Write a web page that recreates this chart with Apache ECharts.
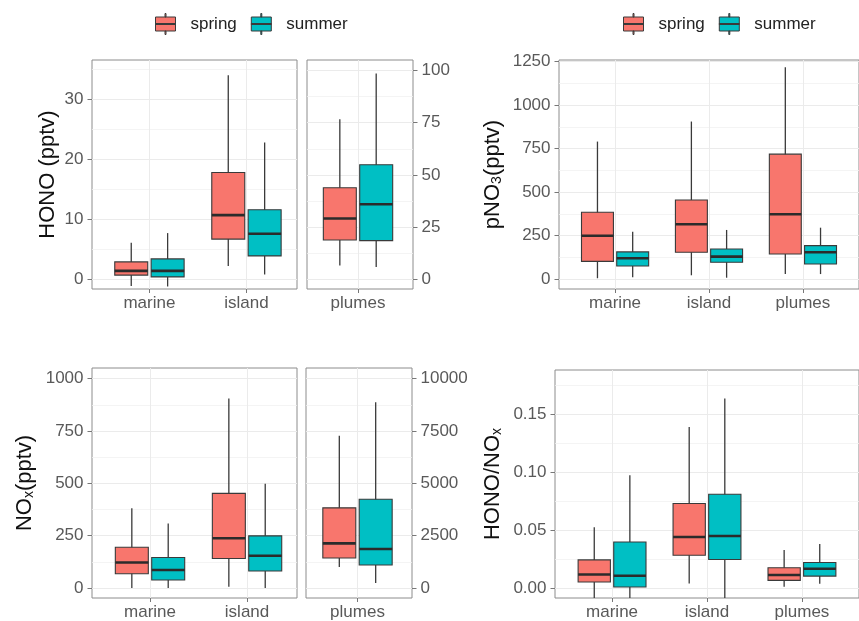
<!DOCTYPE html>
<html>
<head>
<meta charset="utf-8">
<script src="https://cdn.jsdelivr.net/npm/echarts@6/dist/echarts.min.js"></script>
<style>html,body{margin:0;padding:0;background:#fff}#c{width:859px;height:621px}</style>
</head>
<body>
<div id="c"></div>
<script>
// ---------- data (each box: [lower whisker, Q1, median, Q3, upper whisker]) ----------
const catsSites = ['marine', 'island'];
const catsPlume = ['plumes'];
const catsAll = ['marine', 'island', 'plumes'];
const seriesNames = ['spring', 'summer'];

const honoSpring = [[-1.1, 0.7, 1.4, 2.9, 6.1], [2.2, 6.7, 10.7, 17.8, 34.0]];
const honoSummer = [[-1.2, 0.4, 1.4, 3.4, 7.7], [0.8, 3.9, 7.6, 11.6, 22.8]];
const honoPlumeSpring = [[6.5, 18.7, 29.0, 43.8, 76.7]];
const honoPlumeSummer = [[5.7, 18.4, 35.9, 54.8, 98.6]];

const pno3Spring = [[6, 103, 250, 385, 790], [23, 155, 316, 455, 905], [30, 145, 373, 718, 1216]];
const pno3Summer = [[11, 76, 121, 157, 273], [9, 98, 130, 174, 283], [30, 88, 155, 193, 296]];

const noxSpring = [[0, 68, 122, 195, 381], [6, 141, 238, 452, 905]];
const noxSummer = [[0, 38, 86, 146, 308], [0, 81, 154, 249, 498]];
const noxPlumeSpring = [[1000, 1430, 2130, 3830, 7270]];
const noxPlumeSummer = [[240, 1100, 1860, 4240, 8870]];

const ratioSpring = [[-0.012, 0.0052, 0.0117, 0.0243, 0.0524], [0.004, 0.0283, 0.0441, 0.073, 0.139], [0.0011, 0.0066, 0.0112, 0.0175, 0.0329]];
const ratioSummer = [[-0.02, 0.0009, 0.0106, 0.0398, 0.0973], [-0.015, 0.0246, 0.0449, 0.081, 0.1637], [0.0037, 0.0103, 0.0166, 0.022, 0.038]];

// tick values
const honoTicks = [0, 10, 20, 30];
const honoMinor = [5, 15, 25, 35];
const honoPlumeTicks = [0, 25, 50, 75, 100];
const honoPlumeMinor = [12.5, 37.5, 62.5, 87.5];
const pno3Ticks = [0, 250, 500, 750, 1000, 1250];
const pno3Minor = [125, 375, 625, 875, 1125];
const noxTicks = [0, 250, 500, 750, 1000];
const noxMinor = [125, 375, 625, 875];
const noxPlumeTicks = [0, 2500, 5000, 7500, 10000];
const noxPlumeMinor = [1250, 3750, 6250, 8750];
const ratioTicks = [0, 0.05, 0.10, 0.15];
const ratioMinor = [0.025, 0.075, 0.125, 0.175];

// ---------- styling ----------
const COLORS = { spring: '#F8766D', summer: '#00BFC4' };
const FONT = "'Liberation Sans', Arial, sans-serif";
const TICK_COLOR = '#595959';
const BORDER = '#8c8c8c';
const GRIDLINE = '#EBEBEB';
const DODGE = 0.1875, HALF = 0.17;

const panels = [
  { left: 92, top: 60, width: 205, height: 229, xmin: -0.592, xmax: 1.521, ymin: -1.62, ymax: 36.55, cats: catsSites, ticks: honoTicks, minor: honoMinor, pos: 'left', name: 'HONO (pptv)', gap: 33, data: [honoSpring, honoSummer] },
  { left: 307, top: 60, width: 106, height: 229, xmin: -0.526, xmax: 0.567, ymin: -4.8, ymax: 105.1, cats: catsPlume, ticks: honoPlumeTicks, minor: honoPlumeMinor, pos: 'right', data: [honoPlumeSpring, honoPlumeSummer] },
  { left: 559, top: 60, width: 309, height: 229, xmin: -0.597, xmax: 2.597, ymin: -55.7, ymax: 1258, cats: catsAll, ticks: pno3Ticks, minor: pno3Minor, pos: 'left', name: '{m|pNO}{s|3}{m|(pptv)}', gap: 55, data: [pno3Spring, pno3Summer] },
  { left: 92, top: 368, width: 205, height: 230, xmin: -0.598, xmax: 1.515, ymin: -47.8, ymax: 1051, cats: catsSites, ticks: noxTicks, minor: noxMinor, pos: 'left', name: '{m|NO}{s|x}{m|(pptv)}', gap: 56, data: [noxSpring, noxSummer] },
  { left: 306, top: 368, width: 106, height: 230, xmin: -0.531, xmax: 0.562, ymin: -478, ymax: 10510, cats: catsPlume, ticks: noxPlumeTicks, minor: noxPlumeMinor, pos: 'right', data: [noxPlumeSpring, noxPlumeSummer] },
  { left: 555, top: 370, width: 316, height: 229, xmin: -0.601, xmax: 2.601, ymin: -0.0086, ymax: 0.1883, cats: catsAll, ticks: ratioTicks, minor: ratioMinor, pos: 'left', name: '{m|HONO/NO}{s|x}', gap: 51, fmt: v => v.toFixed(2), data: [ratioSpring, ratioSummer] }
];

const grid = [], xAxis = [], yAxis = [], series = [];
panels.forEach((p, i) => {
  grid.push({ left: p.left, top: p.top, width: p.width, height: p.height, show: true, borderColor: BORDER, borderWidth: 1, backgroundColor: 'transparent' });
  const cats = p.cats;
  xAxis.push({
    type: 'value', gridIndex: i, min: p.xmin, max: p.xmax,
    axisLine: { show: false, onZero: false },
    axisTick: { show: true, length: 4, customValues: cats.map((c, k) => k), lineStyle: { color: '#777', width: 1 } },
    axisLabel: { customValues: cats.map((c, k) => k), formatter: v => cats[Math.round(v)], margin: 6, fontSize: 17, color: TICK_COLOR, fontFamily: FONT },
    splitLine: { show: true, lineStyle: { color: GRIDLINE, width: 1 } }
  });
});
panels.forEach((p, i) => {
  yAxis.push({
    type: 'value', gridIndex: i, min: p.ymin, max: p.ymax, position: p.pos,
    name: p.name || '', nameLocation: 'middle', nameRotate: 90, nameGap: p.gap || 0,
    nameTextStyle: { fontSize: 22, color: '#111', fontFamily: FONT,
      rich: { m: { fontSize: 22, color: '#111', fontFamily: FONT }, s: { fontSize: 14, color: '#111', fontFamily: FONT, verticalAlign: 'bottom' } } },
    axisLine: { show: false, onZero: false },
    axisTick: { show: true, length: 4.5, customValues: p.ticks, lineStyle: { color: '#777', width: 1 } },
    axisLabel: { customValues: p.ticks, formatter: p.fmt || (v => String(v)), margin: 8.5, fontSize: 17, color: TICK_COLOR, fontFamily: FONT },
    splitLine: { show: true, lineStyle: { color: GRIDLINE, width: 1 } }
  });
});
panels.forEach((p, i) => {
  yAxis.push({
    type: 'value', gridIndex: i, min: p.ymin, max: p.ymax, position: p.pos,
    axisLine: { show: false, onZero: false },
    axisTick: { show: false, customValues: p.minor },
    axisLabel: { show: false, customValues: p.minor },
    splitLine: { show: true, lineStyle: { color: '#F1F1F1', width: 0.8 } }
  });
});

function makeRender(offset, color) {
  return function (params, api) {
    const x = api.value(0) + offset;
    const low = api.value(1), q1 = api.value(2), med = api.value(3), q3 = api.value(4), high = api.value(5);
    const a = api.coord([x - HALF, q3]);
    const b = api.coord([x + HALF, q1]);
    const wl = api.coord([x, low]);
    const wh = api.coord([x, high]);
    const ml = api.coord([x - HALF, med]);
    const mr = api.coord([x + HALF, med]);
    return {
      type: 'group',
      children: [
        { type: 'line', shape: { x1: wl[0], y1: wl[1], x2: wh[0], y2: wh[1] }, style: { stroke: '#3a3a3a', lineWidth: 1.3 } },
        { type: 'rect', shape: { x: a[0], y: a[1], width: b[0] - a[0], height: b[1] - a[1] }, style: { fill: color, stroke: '#3a3a3a', lineWidth: 1.1 } },
        { type: 'line', shape: { x1: ml[0], y1: ml[1], x2: mr[0], y2: mr[1] }, style: { stroke: '#2b2b2b', lineWidth: 2.6 } }
      ]
    };
  };
}

panels.forEach((p, i) => {
  p.data.forEach((arr, s) => {
    const nm = seriesNames[s];
    series.push({
      type: 'custom', name: nm, xAxisIndex: i, yAxisIndex: i, clip: true,
      itemStyle: { color: COLORS[nm] },
      renderItem: makeRender(s === 0 ? -DODGE : DODGE, COLORS[nm]),
      encode: { x: 0, y: [1, 2, 3, 4, 5] },
      data: arr.map((d, k) => [k].concat(d))
    });
  });
});

const legendIcon = 'path://M0,3.5H20V17.5H0Z M9.5,0H10.5V3.5H9.5Z M9.5,17.5H10.5V21H9.5Z M0,10H20V11H0Z';
const legendBase = {
  data: seriesNames, orient: 'horizontal', icon: legendIcon, itemWidth: 20, itemHeight: 21, itemGap: 14,
  padding: 0,
  itemStyle: { borderColor: '#3a3a3a', borderWidth: 1 },
  textStyle: { fontSize: 17, color: '#222', fontFamily: FONT, padding: [0, 0, 0, 10] },
  selectedMode: false
};

const option = {
  animation: false,
  backgroundColor: '#fff',
  color: [COLORS.spring, COLORS.summer],
  textStyle: { fontFamily: FONT },
  legend: [
    Object.assign({}, legendBase, { left: 155, top: 13 }),
    Object.assign({}, legendBase, { left: 623, top: 13 })
  ],
  grid, xAxis, yAxis, series
};

const chart = echarts.init(document.getElementById('c'), null, { renderer: 'canvas' });
chart.setOption(option);
</script>
</body>
</html>
